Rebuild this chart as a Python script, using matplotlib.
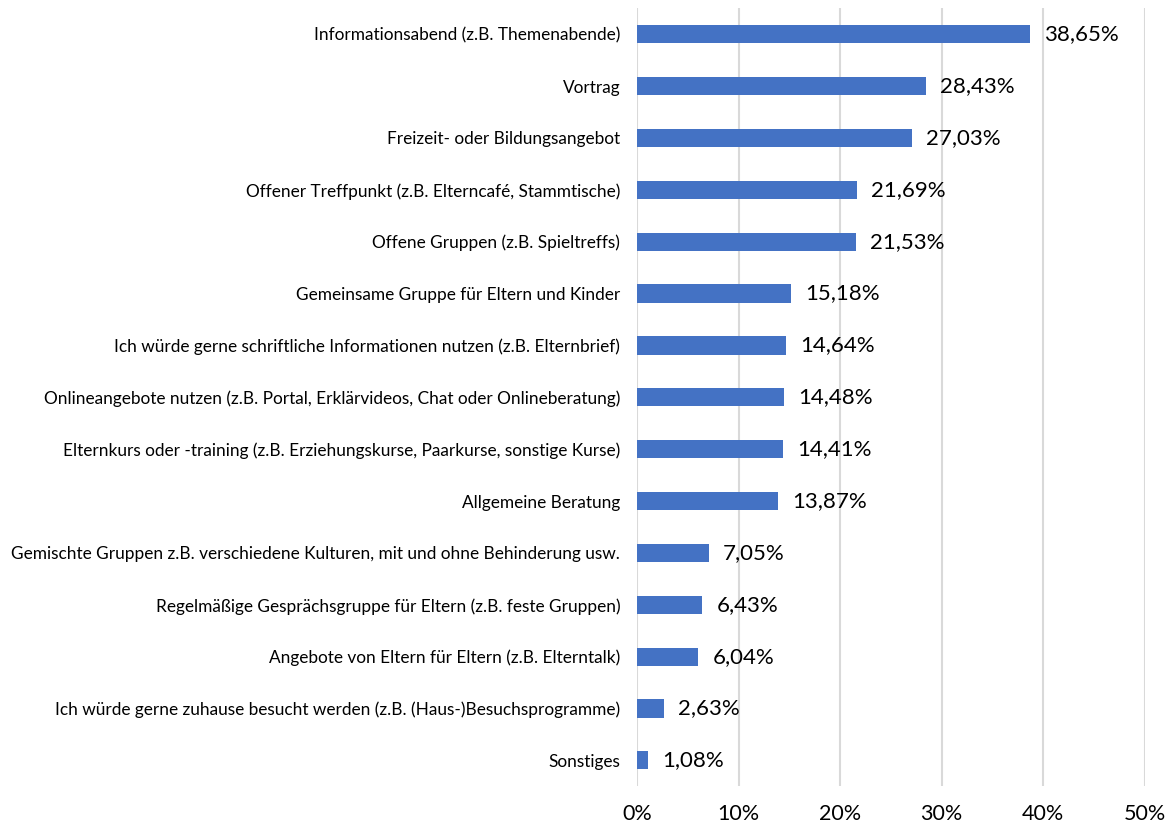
import matplotlib
matplotlib.use("Agg")
import matplotlib.pyplot as plt
from matplotlib.ticker import FuncFormatter

categories = [
    "Informationsabend (z.B. Themenabende)",
    "Vortrag",
    "Freizeit- oder Bildungsangebot",
    "Offener Treffpunkt (z.B. Elterncafé, Stammtische)",
    "Offene Gruppen (z.B. Spieltreffs)",
    "Gemeinsame Gruppe für Eltern und Kinder",
    "Ich würde gerne schriftliche Informationen nutzen (z.B. Elternbrief)",
    "Onlineangebote nutzen (z.B. Portal, Erklärvideos, Chat oder Onlineberatung)",
    "Elternkurs oder -training (z.B. Erziehungskurse, Paarkurse, sonstige Kurse)",
    "Allgemeine Beratung",
    "Gemischte Gruppen z.B. verschiedene Kulturen, mit und ohne Behinderung usw.",
    "Regelmäßige Gesprächsgruppe für Eltern (z.B. feste Gruppen)",
    "Angebote von Eltern für Eltern (z.B. Elterntalk)",
    "Ich würde gerne zuhause besucht werden (z.B. (Haus-)Besuchsprogramme)",
    "Sonstiges",
]
values = [38.65, 28.43, 27.03, 21.69, 21.53, 15.18, 14.64, 14.48, 14.41, 13.87,
          7.05, 6.43, 6.04, 2.63, 1.08]
x_ticks = [0, 10, 20, 30, 40, 50]

plt.rcParams["font.family"] = ["Lato", "DejaVu Sans"]

fig = plt.figure(figsize=(11.73, 8.26), dpi=100)
ax = fig.add_axes([0.543, 0.048, 0.433, 0.942])

ypos = list(range(len(categories)))
ax.barh(ypos, values, height=0.35, color="#4472C4", zorder=3)

for y, v in zip(ypos, values):
    ax.text(v + 1.4, y, f"{v:.2f}%".replace(".", ","), va="center", ha="left",
            fontsize=16, color="black")

ax.set_xlim(0, 50)
ax.set_ylim(len(categories) - 0.5, -0.5)
ax.set_yticks(ypos)
ax.set_yticklabels(categories, fontsize=12.4)
ax.set_xticks(x_ticks)
ax.xaxis.set_major_formatter(FuncFormatter(lambda v, _: f"{v:.0f}%"))
ax.tick_params(axis="x", labelsize=15.5, length=0, pad=13)
ax.tick_params(axis="y", length=0, pad=12)
ax.grid(axis="x", color="#D9D9D9", linewidth=1.5, zorder=0)
for s in ax.spines.values():
    s.set_visible(False)

fig.savefig("out.png", dpi=100)
